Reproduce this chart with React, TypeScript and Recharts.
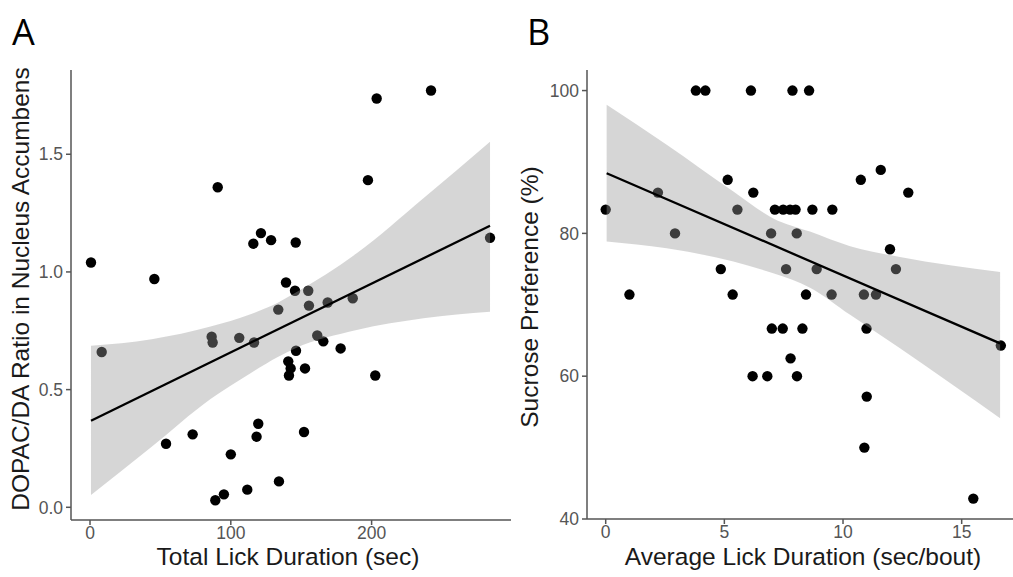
import { ComposedChart, Scatter, Line, Area, XAxis, YAxis } from 'recharts'

// Panel A: total lick duration (sec) vs DOPAC/DA ratio in nucleus accumbens
const lickTotal = [
  0.7, 8.3, 45.7, 54, 72.9, 86.4, 87.1, 89, 90.7, 95.1, 100, 106, 111.7, 116,
  116.5, 118.3, 119.5, 121.4, 128.6, 133.7, 134.2, 139.2, 140.8, 141.3, 142.5,
  145.6, 146.1, 146.3, 152, 152.7, 155, 155.5, 161.4, 165.7, 168.8, 178, 186.6,
  197.4, 202.6, 203.6, 242.2, 284.1,
]
const dopacRatio = [
  1.04, 0.66, 0.97, 0.27, 0.31, 0.725, 0.7, 0.03, 1.36, 0.055, 0.225, 0.72,
  0.075, 1.12, 0.7, 0.3, 0.355, 1.165, 1.135, 0.84, 0.11, 0.955, 0.62, 0.56,
  0.59, 0.92, 1.125, 0.665, 0.32, 0.59, 0.92, 0.857, 0.73, 0.705, 0.87, 0.675,
  0.888, 1.39, 0.56, 1.737, 1.771, 1.145,
]
const fitAx = [0.7, 284.1]
const fitAy = [0.368, 1.196]
const bandAx = [0.7, 43.8, 85.6, 114, 133.7, 145.6, 189.4, 236.8, 284.1]
const bandALow = [0.052, 0.257, 0.46, 0.57, 0.64, 0.675, 0.753, 0.803, 0.831]
const bandAHigh = [0.686, 0.714, 0.768, 0.82, 0.87, 0.91, 1.079, 1.313, 1.553]

// Panel B: average lick duration (sec/bout) vs sucrose preference (%)
const lickAvg = [
  3.8, 4.2, 6.12, 7.87, 8.57, 11.59, 5.14, 10.75, 2.2, 6.22, 12.75, 0.0, 5.55,
  7.13, 7.48, 7.77, 8.0, 8.71, 9.55, 2.92, 6.97, 8.05, 11.98, 4.85, 7.6, 8.89,
  12.23, 1.0, 5.35, 8.44, 9.52, 10.88, 11.39, 7.0, 7.46, 8.29, 10.99, 16.65,
  7.79, 6.19, 6.81, 8.06, 11.0, 10.9, 15.49,
]
const sucrosePref = [
  100, 100, 100, 100, 100, 88.89, 87.5, 87.5, 85.71, 85.71, 85.71, 83.33, 83.33,
  83.33, 83.33, 83.33, 83.33, 83.33, 83.33, 80, 80, 80, 77.78, 75, 75, 75, 75,
  71.43, 71.43, 71.43, 71.43, 71.43, 71.43, 66.67, 66.67, 66.67, 66.67, 64.29,
  62.5, 60, 60, 60, 57.14, 50, 42.86,
]
const fitBx = [0.04, 16.62]
const fitBy = [88.43, 64.6]
const bandBx = [0.04, 2.57, 5.38, 7.06, 8.61, 10.3, 12.4, 16.62]
const bandBLow = [78.85, 77.9, 76.05, 74.4, 72.4, 68.6, 63.9, 54.1]
const bandBHigh = [98.0, 92.4, 85.85, 82.1, 80.25, 78.2, 76.7, 74.6]

const pointsA = lickTotal.map((x, i) => ({ x, y: dopacRatio[i] }))
const lineA = fitAx.map((x, i) => ({ x, y: fitAy[i] }))
const ribbonA = bandAx.map((x, i) => ({ x, range: [bandALow[i], bandAHigh[i]] }))
const pointsB = lickAvg.map((x, i) => ({ x, y: sucrosePref[i] }))
const lineB = fitBx.map((x, i) => ({ x, y: fitBy[i] }))
const ribbonB = bandBx.map((x, i) => ({ x, range: [bandBLow[i], bandBHigh[i]] }))

const FONT = '"Liberation Sans", Arial, sans-serif'
const AXIS = '#555'
const tickStyle = { fill: '#555', fontSize: 17.5, fontFamily: FONT }

const Dot = (p: any) => <circle cx={p.cx} cy={p.cy} r={5.2} fill="#000" />

function Panel({ points, line, ribbon, xDomain, yDomain, xTicks, yTicks, yFmt, width, yWidth, xHeight, right }: any) {
  return (
    <ComposedChart
      width={width}
      height={577}
      margin={{ top: 70, right, bottom: 0, left: 0 }}
    >
      <XAxis
        type="number"
        dataKey="x"
        domain={xDomain}
        ticks={xTicks}
        interval={0}
        allowDataOverflow
        height={xHeight}
        tickSize={5}
        tickMargin={2}
        stroke={AXIS}
        axisLine={{ stroke: AXIS, strokeWidth: 1.5 }}
        tickLine={{ stroke: AXIS, strokeWidth: 1.5 }}
        tick={tickStyle}
      />
      <YAxis
        type="number"
        dataKey="y"
        domain={yDomain}
        ticks={yTicks}
        interval={0}
        allowDataOverflow
        width={yWidth}
        tickSize={5}
        tickMargin={3}
        tickFormatter={yFmt}
        stroke={AXIS}
        axisLine={{ stroke: AXIS, strokeWidth: 1.5 }}
        tickLine={{ stroke: AXIS, strokeWidth: 1.5 }}
        tick={tickStyle}
      />
      <Scatter data={points} shape={Dot} isAnimationActive={false} zIndex={50} />
      <Area
        data={ribbon}
        dataKey="range"
        type="monotone"
        stroke="none"
        fill="#999999"
        fillOpacity={0.4}
        isAnimationActive={false}
        zIndex={100}
      />
      <Line
        data={line}
        dataKey="y"
        type="linear"
        stroke="#000"
        strokeWidth={2.3}
        dot={false}
        isAnimationActive={false}
        zIndex={400}
      />
    </ComposedChart>
  )
}

export default function App() {
  return (
    <div style={{ position: 'fixed', left: 0, top: 0, width: 1013, height: 577, overflow: 'hidden', background: '#fff' }}>
      <div style={{ position: 'absolute', left: 0, top: 0 }}>
        <Panel
          points={pointsA}
          line={lineA}
          ribbon={ribbonA}
          xDomain={[-13.5, 299]}
          yDomain={[-0.054, 1.858]}
          xTicks={[0, 100, 200]}
          yTicks={[0, 0.5, 1, 1.5]}
          yFmt={(v: number) => v.toFixed(1)}
          width={520}
          yWidth={71}
          xHeight={57}
          right={9}
        />
      </div>
      <div style={{ position: 'absolute', left: 514, top: 0 }}>
        <Panel
          points={pointsB}
          line={lineB}
          ribbon={ribbonB}
          xDomain={[-0.788, 17.5]}
          yDomain={[40, 102.88]}
          xTicks={[0, 5, 10, 15]}
          yTicks={[40, 60, 80, 100]}
          yFmt={(v: number) => String(v)}
          width={507}
          yWidth={73}
          xHeight={58}
          right={0}
        />
      </div>
      <svg width={1013} height={577} style={{ position: 'absolute', left: 0, top: 0, pointerEvents: 'none' }}>
        <g fontFamily={FONT} fill="#1a1a1a">
          <text x={12} y={45} fontSize={36} fontFamily='"Open Sans", sans-serif' fill="#000">A</text>
          <text x={527} y={45} fontSize={36} fontFamily='"Open Sans", sans-serif' fill="#000">B</text>
          <text x={288} y={565} fontSize={24.5} textAnchor="middle">Total Lick Duration (sec)</text>
          <text x={803} y={565} fontSize={24.5} textAnchor="middle">Average Lick Duration (sec/bout)</text>
          <text x={29} y={289} fontSize={24.5} textAnchor="middle" transform="rotate(-90 29 289)">
            DOPAC/DA Ratio in Nucleus Accumbens
          </text>
          <text x={538} y={297} fontSize={24.5} textAnchor="middle" transform="rotate(-90 538 297)">
            Sucrose Preference (%)
          </text>
        </g>
      </svg>
    </div>
  )
}
